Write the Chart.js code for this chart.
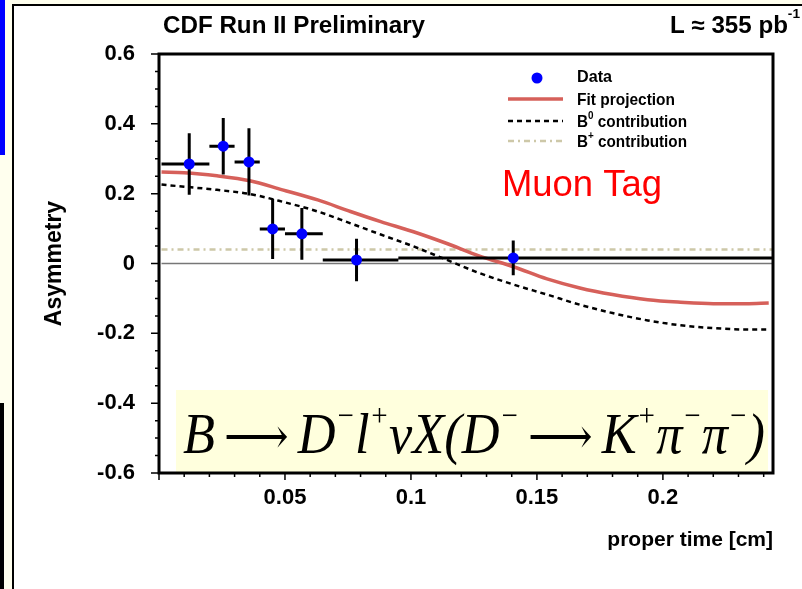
<!DOCTYPE html>
<html>
<head>
<meta charset="utf-8">
<script src="https://cdn.jsdelivr.net/npm/chart.js@4.4.1/dist/chart.umd.min.js"></script>
<style>
  body { margin: 0; background: #ffffee; width: 802px; height: 589px; overflow: hidden; position: relative; }
  #blue { position: absolute; left: 0; top: 0; width: 5px; height: 155px; background: #0000ff; }
  #dark { position: absolute; left: 0; top: 403px; width: 4px; height: 186px; background: #000; }
  #panel { position: absolute; left: 12px; top: 4px; width: 790px; height: 585px; background: #fff;
           border-left: 2px solid #000; border-top: 2px solid #000; }
  #myChart { position: absolute; left: 0; top: 0; }
</style>
</head>
<body>
<div id="blue"></div>
<div id="dark"></div>
<div id="panel"></div>
<canvas id="myChart" width="802" height="589"></canvas>
<script>
// measured points (proper time in cm)
const binLo = [0.001, 0.020, 0.030, 0.040, 0.050, 0.065, 0.095];
const binHi = [0.020, 0.030, 0.040, 0.050, 0.065, 0.095, 0.250];
const tMid  = [0.012, 0.0255, 0.0357, 0.0451, 0.0567, 0.0784, 0.1406];
const asym  = [0.285, 0.336, 0.291, 0.099, 0.085, 0.010, 0.016];
const errA  = [0.088, 0.081, 0.096, 0.086, 0.074, 0.061, 0.050];

// fit curves
const curveT = [0.001, 0.010, 0.023, 0.036, 0.049, 0.063, 0.076, 0.088, 0.101, 0.114,
                0.127, 0.141, 0.154, 0.167, 0.180, 0.194, 0.207, 0.220, 0.233, 0.242];
const fitA = [0.262, 0.260, 0.251, 0.237, 0.211, 0.182, 0.149, 0.120, 0.091, 0.058,
              0.022, -0.010, -0.044, -0.070, -0.089, -0.104, -0.111, -0.115, -0.115, -0.113];
const b0A  = [0.226, 0.220, 0.211, 0.199, 0.177, 0.149, 0.115, 0.083, 0.049, 0.011,
              -0.027, -0.061, -0.089, -0.118, -0.142, -0.163, -0.177, -0.185, -0.189, -0.189];
const bPlusT = [0.001, 0.244];
const bPlusA = [0.04, 0.04];
const zeroT = [0.001, 0.244];
const zeroA = [0, 0];

const SANS = '"Liberation Sans", Arial, sans-serif';
const SERIF = '"Liberation Serif", "DejaVu Serif", "Times New Roman", serif';
const RED = '#d6605a';
const TAN = '#cdc8a8';

function pts(xs, ys) { return xs.map((x, i) => ({x: x, y: ys[i]})); }
function isMult(v, s) { const k = Math.round(v / s); return Math.abs(v - k * s) < 1e-6; }

// draws pieces of text one after another, squeezed to width w
function drawRuns(ctx, runs, x, y, w) {
  let total = 0;
  const ws = runs.map(r => { ctx.font = r[1]; const m = ctx.measureText(r[0]).width; total += m; return m; });
  const k = w ? w / total : 1;
  ctx.save();
  ctx.translate(x, y);
  ctx.scale(k, 1);
  ctx.textAlign = 'left';
  ctx.textBaseline = 'alphabetic';
  let cx = 0;
  runs.forEach((r, i) => { ctx.font = r[1]; ctx.fillText(r[0], cx, r[2] || 0); cx += ws[i]; });
  ctx.restore();
}

const errorBars = {
  id: 'errorBars',
  beforeDatasetsDraw(chart) {
    const {ctx, chartArea: a} = chart;
    // formula box
    ctx.save();
    ctx.fillStyle = '#ffffdd';
    ctx.fillRect(a.left + 17, a.bottom - 83, a.right - a.left - 22, 83);
    ctx.fillStyle = '#000';
    const f = 'italic 58px ' + SERIF, up = '50px ' + SERIF, s = 'italic 32px ' + SERIF, d = -27;
    drawRuns(ctx, [
      ['B', f], ['\u2009\u27f6\u2009', up], ['D', f], ['\u2212', s, d], ['l', f], ['+', s, d], ['\u03bd', f], ['X', f],
      ['(', f], ['D', f], ['\u2212', s, d], ['\u2009\u27f6\u2009', up], ['K', f], ['+', s, d], ['\u03c0', f],
      ['\u2212', s, d], ['\u03c0', f], ['\u2212', s, d], [')', f]
    ], a.left + 24, a.bottom - 20, 582);
    ctx.restore();
  },
  beforeDatasetDraw(chart, args) {
    if (args.index !== 0) return;
    const {ctx, chartArea: a, scales: {x, y}} = chart;
    ctx.save();
    ctx.beginPath();
    ctx.rect(a.left, a.top, a.right - a.left, a.bottom - a.top);
    ctx.clip();
    ctx.strokeStyle = '#000';
    ctx.lineWidth = 3;
    ctx.beginPath();
    for (let i = 0; i < tMid.length; i++) {
      const px = x.getPixelForValue(tMid[i]);
      const py = y.getPixelForValue(asym[i]);
      ctx.moveTo(x.getPixelForValue(binLo[i]), py);
      ctx.lineTo(x.getPixelForValue(binHi[i]), py);
      ctx.moveTo(px, y.getPixelForValue(asym[i] + errA[i]));
      ctx.lineTo(px, y.getPixelForValue(asym[i] - errA[i]));
    }
    ctx.stroke();
    ctx.restore();
  }
};

const frame = {
  id: 'frame',
  afterDatasetsDraw(chart) {
    const {ctx, chartArea: a, scales: {x, y}} = chart;
    ctx.save();
    ctx.strokeStyle = '#000';
    ctx.lineWidth = 1.5;
    ctx.beginPath();
    y.ticks.forEach(t => {
      const py = y.getPixelForValue(t.value);
      ctx.moveTo(a.left, py);
      ctx.lineTo(a.left - (isMult(t.value, 0.2) ? 8 : 4), py);
    });
    x.ticks.forEach(t => {
      const px = x.getPixelForValue(t.value);
      ctx.moveTo(px, a.bottom);
      ctx.lineTo(px, a.bottom + (isMult(t.value, 0.05) ? 7 : 4));
    });
    ctx.stroke();
    ctx.lineWidth = 3;
    ctx.strokeRect(a.left, a.top, a.right - a.left, a.bottom - a.top);
    ctx.restore();
  },
  afterDraw(chart) {
    const {ctx} = chart;
    ctx.save();
    ctx.fillStyle = '#000';
    drawRuns(ctx, [['CDF Run II Preliminary', 'bold 23px ' + SANS]], 163, 33, 262);
    drawRuns(ctx, [['L \u2248 355 pb', 'bold 23px ' + SANS], ['-1', 'bold 13px ' + SANS, -15]], 670, 33, 130);

    // legend
    const lf = 'bold 17px ' + SANS;
    drawRuns(ctx, [['Data', lf]], 577, 82, 35);
    drawRuns(ctx, [['Fit projection', lf]], 577, 105, 98);
    drawRuns(ctx, [['B', lf], ['0', 'bold 11px ' + SANS, -8], [' contribution', lf]], 577, 127, 110);
    drawRuns(ctx, [['B', lf], ['+', 'bold 11px ' + SANS, -8], [' contribution', lf]], 577, 147, 110);
    ctx.fillStyle = '#0000ff';
    ctx.beginPath();
    ctx.arc(537, 78, 5.5, 0, Math.PI * 2);
    ctx.fill();
    ctx.lineWidth = 3.5;
    ctx.strokeStyle = RED;
    ctx.beginPath(); ctx.moveTo(508, 99); ctx.lineTo(563, 99); ctx.stroke();
    ctx.lineWidth = 2.5;
    ctx.strokeStyle = '#000';
    ctx.setLineDash([5, 4]);
    ctx.beginPath(); ctx.moveTo(508, 121); ctx.lineTo(563, 121); ctx.stroke();
    ctx.strokeStyle = TAN;
    ctx.setLineDash([6, 4, 2, 4]);
    ctx.beginPath(); ctx.moveTo(508, 141); ctx.lineTo(563, 141); ctx.stroke();
    ctx.setLineDash([]);

    ctx.fillStyle = '#ff0000';
    drawRuns(ctx, [['Muon Tag', '36px ' + SANS]], 502, 196, 160);
    ctx.restore();
  }
};

const tickFont = {family: SANS, size: 22, weight: 'bold'};

new Chart(document.getElementById('myChart'), {
  type: 'scatter',
  data: {
    datasets: [
      {
        label: 'Data',
        data: pts(tMid, asym),
        pointRadius: 5.5,
        pointHoverRadius: 5.5,
        pointBackgroundColor: '#0000ff',
        pointBorderWidth: 0,
        showLine: false
      },
      {
        label: 'Fit projection',
        data: pts(curveT, fitA),
        showLine: true,
        borderColor: RED,
        borderWidth: 3.5,
        pointRadius: 0,
        cubicInterpolationMode: 'monotone'
      },
      {
        label: 'B0 contribution',
        data: pts(curveT, b0A),
        showLine: true,
        borderColor: '#000',
        borderWidth: 2.5,
        borderDash: [5, 4],
        pointRadius: 0,
        cubicInterpolationMode: 'monotone'
      },
      {
        label: 'B+ contribution',
        data: pts(bPlusT, bPlusA),
        showLine: true,
        borderColor: TAN,
        borderWidth: 2.5,
        borderDash: [6, 4, 2, 4],
        pointRadius: 0
      },
      {
        label: 'zero',
        data: pts(zeroT, zeroA),
        showLine: true,
        borderColor: '#777',
        borderWidth: 1.5,
        pointRadius: 0
      }
    ]
  },
  options: {
    responsive: false,
    animation: false,
    layout: {padding: {top: 54, right: 29, left: 0, bottom: 0}},
    plugins: {legend: {display: false}, tooltip: {enabled: false}},
    scales: {
      x: {
        type: 'linear',
        min: 0,
        max: 0.2437,
        grid: {display: false, drawTicks: false},
        border: {display: false},
        afterFit(s) { s.height = 116; },
        ticks: {
          stepSize: 0.01,
          autoSkip: false,
          includeBounds: false,
          maxRotation: 0,
          padding: 12,
          color: '#000',
          font: tickFont,
          callback: v => (v > 0.001 && isMult(v, 0.05)) ? String(+v.toFixed(2)) : ''
        },
        title: {
          display: true,
          text: 'proper time [cm]',
          align: 'end',
          color: '#000',
          font: {family: SANS, size: 21, weight: 'bold'},
          padding: {top: 0, bottom: 36}
        }
      },
      y: {
        min: -0.6,
        max: 0.6,
        grid: {display: false, drawTicks: false},
        border: {display: false},
        afterFit(s) { s.width = 159; },
        ticks: {
          stepSize: 0.05,
          autoSkip: false,
          padding: 24,
          color: '#000',
          font: tickFont,
          callback: v => isMult(v, 0.2) ? (Math.abs(v) < 1e-6 ? '0' : v.toFixed(1)) : ''
        },
        title: {
          display: true,
          text: 'Asymmetry',
          color: '#000',
          font: {family: SANS, size: 23, weight: 'bold'},
          padding: {top: 41, bottom: 0}
        }
      }
    }
  },
  plugins: [errorBars, frame]
});
</script>
</body>
</html>
